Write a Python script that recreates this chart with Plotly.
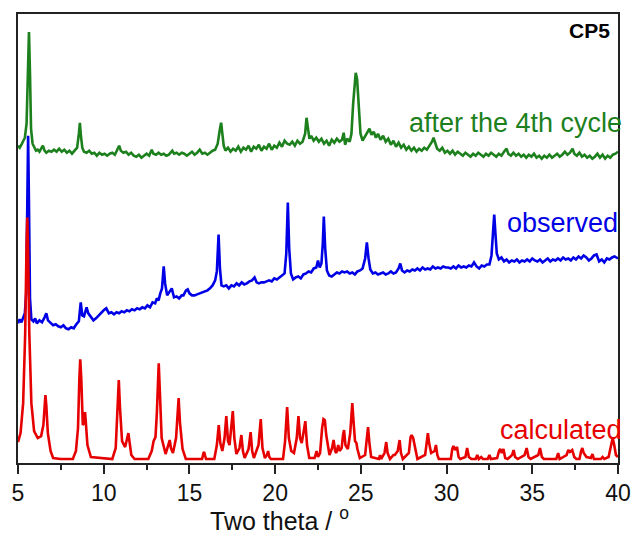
import plotly.graph_objects as go

# ---- data (two theta in degrees, intensity in arbitrary units with vertical offsets) ----
calc_pts = [
    (5.00, 21), (5.15, 30), (5.30, 60), (5.42, 130), (5.50, 220), (5.54, 246), (5.58, 220), (5.66, 130),
    (5.78, 60), (5.94, 32), (6.15, 25), (6.35, 27), (6.48, 38), (6.56, 60), (6.60, 68), (6.65, 58),
    (6.74, 30), (6.90, 12), (7.05, 5), (7.48, 4), (8.20, 4), (8.38, 12), (8.50, 35), (8.58, 85),
    (8.63, 104), (8.69, 85), (8.78, 38), (8.85, 40), (8.91, 51), (8.96, 40), (9.05, 18), (9.25, 6),
    (10.50, 4), (10.70, 15), (10.80, 50), (10.88, 83), (10.95, 55), (11.07, 22), (11.25, 16), (11.38, 24),
    (11.44, 30), (11.50, 22), (11.61, 8), (11.80, 4), (12.60, 4), (12.80, 12), (12.91, 22), (13.02, 26),
    (13.10, 50), (13.21, 100), (13.28, 70), (13.38, 25), (13.61, 9), (13.78, 18), (13.85, 23), (13.92, 15),
    (14.04, 10), (14.22, 25), (14.37, 65), (14.45, 40), (14.60, 14), (14.79, 4), (15.74, 4), (15.82, 10),
    (15.86, 11), (15.92, 7), (15.97, 4), (16.45, 4), (16.60, 18), (16.71, 38), (16.80, 20), (16.92, 12),
    (17.05, 25), (17.15, 47), (17.25, 22), (17.34, 18), (17.45, 35), (17.53, 52), (17.62, 25), (17.74, 9),
    (17.92, 15), (18.03, 28), (18.12, 12), (18.22, 5), (18.45, 14), (18.57, 31), (18.66, 12), (18.76, 5),
    (19.03, 18), (19.16, 44), (19.26, 15), (19.40, 5), (19.52, 8), (19.59, 12), (19.66, 6), (19.75, 4),
    (20.46, 4), (20.58, 22), (20.70, 56), (20.80, 25), (20.94, 12), (21.10, 10), (21.26, 25), (21.36, 47),
    (21.45, 25), (21.55, 20), (21.67, 32), (21.76, 42), (21.86, 18), (21.99, 5), (22.30, 5), (22.42, 12),
    (22.50, 6), (22.62, 10), (22.74, 35), (22.82, 44), (22.90, 43), (22.98, 28), (23.17, 8), (23.32, 15),
    (23.41, 23), (23.50, 12), (23.57, 10), (23.68, 18), (23.76, 12), (23.88, 15), (23.96, 28), (24.02, 33),
    (24.10, 18), (24.24, 14), (24.38, 30), (24.50, 60), (24.58, 40), (24.66, 22), (24.74, 20), (24.80, 14),
    (24.94, 5), (25.25, 8), (25.35, 25), (25.42, 36), (25.50, 20), (25.60, 6), (26.05, 4), (26.12, 8),
    (26.18, 4), (26.38, 10), (26.48, 21), (26.56, 10), (26.70, 4), (26.90, 8), (26.98, 8), (27.15, 12),
    (27.26, 23), (27.34, 10), (27.45, 4), (27.80, 10), (27.90, 26), (27.96, 28), (28.05, 25), (28.15, 16),
    (28.30, 4), (28.75, 8), (28.85, 26), (28.91, 30), (28.98, 20), (29.10, 10), (29.30, 12), (29.38, 18),
    (29.46, 8), (29.55, 4), (30.25, 4), (30.33, 14), (30.40, 17), (30.50, 13), (30.61, 16), (30.70, 6),
    (30.80, 4), (31.10, 6), (31.20, 15), (31.30, 6), (31.45, 4), (31.70, 4), (31.79, 8), (31.88, 4),
    (32.02, 6), (32.12, 4), (32.40, 4), (32.50, 8), (32.58, 4), (32.95, 5), (33.06, 12), (33.13, 14),
    (33.22, 10), (33.32, 14), (33.42, 5), (33.56, 4), (33.82, 8), (33.91, 13), (34.00, 6), (34.15, 4),
    (34.55, 8), (34.67, 15), (34.78, 6), (34.90, 4), (35.35, 8), (35.45, 15), (35.56, 6), (35.68, 4),
    (36.40, 4), (36.51, 10), (36.60, 4), (37.00, 8), (37.10, 13), (37.20, 11), (37.33, 13), (37.45, 6),
    (37.57, 4), (37.75, 4), (37.85, 12), (37.92, 15), (38.00, 10), (38.10, 8), (38.16, 6), (38.42, 5),
    (38.51, 9), (38.60, 4), (39.00, 4), (39.10, 6), (39.20, 4), (39.45, 6), (39.60, 18), (39.69, 25),
    (39.78, 18), (39.88, 8), (40.00, 6),
]

obs_pts = [
    (5.00, 140), (5.10, 144), (5.20, 141), (5.30, 146), (5.40, 150), (5.48, 170), (5.54, 260), (5.59, 328),
    (5.64, 260), (5.70, 165), (5.78, 144), (5.90, 142), (6.00, 145), (6.10, 140), (6.25, 143), (6.40, 141),
    (6.55, 146), (6.65, 150), (6.75, 143), (6.90, 140), (7.05, 138), (7.20, 139), (7.35, 137), (7.50, 136),
    (7.65, 138), (7.80, 135), (7.95, 134), (8.10, 136), (8.25, 135), (8.40, 139), (8.55, 142), (8.66, 161),
    (8.75, 148), (8.85, 147), (9.00, 156), (9.10, 150), (9.25, 146), (9.40, 143), (9.55, 145), (9.70, 148),
    (9.85, 150), (10.00, 153), (10.15, 155), (10.30, 150), (10.45, 151), (10.60, 149), (10.75, 151), (10.90, 150),
    (11.05, 152), (11.20, 151), (11.35, 153), (11.50, 152), (11.65, 154), (11.80, 153), (11.95, 155), (12.10, 154),
    (12.25, 156), (12.40, 155), (12.55, 158), (12.70, 156), (12.85, 161), (13.00, 160), (13.10, 165), (13.20, 163),
    (13.30, 170), (13.40, 175), (13.50, 197), (13.58, 180), (13.70, 168), (13.85, 172), (13.97, 175), (14.10, 166),
    (14.25, 167), (14.40, 165), (14.55, 168), (14.65, 168), (14.80, 173), (14.90, 174), (15.00, 170), (15.15, 168),
    (15.30, 168), (15.45, 169), (15.60, 170), (15.75, 171), (15.90, 172), (16.05, 173), (16.20, 175), (16.35, 178),
    (16.50, 183), (16.60, 192), (16.70, 229), (16.78, 195), (16.87, 178), (17.00, 177), (17.15, 178), (17.30, 175),
    (17.45, 178), (17.60, 177), (17.75, 180), (17.90, 178), (18.05, 181), (18.20, 179), (18.35, 180), (18.50, 182),
    (18.65, 183), (18.80, 186), (18.92, 181), (19.05, 180), (19.20, 181), (19.35, 181), (19.50, 182), (19.65, 183),
    (19.80, 182), (19.95, 185), (20.10, 184), (20.25, 186), (20.40, 188), (20.55, 190), (20.65, 210), (20.74, 261),
    (20.82, 215), (20.92, 190), (21.05, 184), (21.20, 186), (21.35, 187), (21.50, 185), (21.65, 189), (21.80, 190),
    (21.95, 192), (22.10, 191), (22.25, 195), (22.40, 196), (22.50, 203), (22.60, 196), (22.70, 200), (22.78, 220),
    (22.84, 247), (22.92, 215), (23.02, 193), (23.15, 188), (23.30, 187), (23.45, 189), (23.60, 191), (23.75, 190),
    (23.90, 192), (24.05, 191), (24.20, 192), (24.35, 190), (24.50, 191), (24.65, 189), (24.80, 192), (24.95, 193),
    (25.10, 195), (25.25, 205), (25.35, 221), (25.45, 205), (25.55, 194), (25.70, 190), (25.85, 191), (26.00, 189),
    (26.15, 190), (26.30, 191), (26.45, 189), (26.60, 190), (26.75, 192), (26.90, 190), (27.05, 191), (27.20, 195),
    (27.30, 200), (27.40, 193), (27.55, 191), (27.70, 193), (27.85, 192), (28.00, 194), (28.15, 193), (28.30, 195),
    (28.45, 193), (28.60, 196), (28.75, 194), (28.90, 195), (29.05, 194), (29.20, 197), (29.35, 195), (29.50, 196),
    (29.65, 195), (29.80, 197), (29.95, 196), (30.10, 196), (30.25, 195), (30.40, 197), (30.55, 195), (30.70, 198),
    (30.85, 196), (31.00, 197), (31.15, 196), (31.30, 198), (31.45, 197), (31.60, 201), (31.75, 197), (31.90, 195),
    (32.05, 198), (32.20, 197), (32.35, 199), (32.50, 199), (32.62, 208), (32.72, 240), (32.78, 249), (32.85, 230),
    (32.93, 210), (33.05, 204), (33.20, 206), (33.35, 202), (33.50, 204), (33.65, 201), (33.80, 203), (33.95, 202),
    (34.10, 204), (34.25, 201), (34.40, 203), (34.55, 202), (34.70, 204), (34.85, 202), (35.00, 205), (35.15, 203),
    (35.30, 202), (35.45, 204), (35.60, 201), (35.75, 203), (35.90, 205), (36.05, 202), (36.20, 204), (36.35, 203),
    (36.50, 205), (36.65, 203), (36.80, 206), (36.95, 204), (37.10, 205), (37.25, 203), (37.40, 206), (37.55, 204),
    (37.70, 207), (37.85, 205), (38.00, 208), (38.15, 206), (38.30, 203), (38.45, 205), (38.60, 208), (38.75, 209),
    (38.90, 202), (39.05, 204), (39.20, 201), (39.35, 205), (39.50, 204), (39.65, 206), (39.80, 207), (40.00, 205),
]

cycle_pts = [
    (5.00, 318), (5.10, 316), (5.20, 319), (5.30, 322), (5.40, 326), (5.50, 340), (5.57, 400), (5.64, 432),
    (5.70, 390), (5.76, 335), (5.85, 320), (5.95, 316), (6.05, 313), (6.15, 314), (6.25, 312), (6.35, 315),
    (6.45, 318), (6.55, 313), (6.65, 311), (6.80, 313), (6.95, 312), (7.10, 314), (7.25, 312), (7.40, 315),
    (7.55, 312), (7.70, 314), (7.85, 311), (8.00, 313), (8.15, 310), (8.30, 313), (8.45, 316), (8.55, 330),
    (8.61, 341), (8.67, 328), (8.75, 316), (8.85, 312), (9.00, 311), (9.15, 313), (9.30, 310), (9.45, 311),
    (9.60, 308), (9.75, 311), (9.90, 309), (10.05, 310), (10.20, 308), (10.35, 310), (10.50, 311), (10.65, 309),
    (10.80, 315), (10.90, 318), (11.00, 313), (11.15, 311), (11.30, 312), (11.45, 309), (11.60, 311), (11.75, 308),
    (11.90, 307), (12.05, 309), (12.20, 306), (12.35, 308), (12.50, 310), (12.65, 308), (12.80, 314), (12.90, 310),
    (13.05, 309), (13.20, 311), (13.35, 309), (13.50, 310), (13.65, 308), (13.80, 309), (14.00, 313), (14.10, 310),
    (14.25, 311), (14.40, 309), (14.55, 311), (14.70, 310), (14.85, 308), (15.00, 310), (15.15, 312), (15.30, 309),
    (15.45, 311), (15.60, 314), (15.75, 310), (15.90, 311), (16.05, 309), (16.20, 311), (16.35, 313), (16.50, 314),
    (16.65, 320), (16.78, 335), (16.85, 341), (16.92, 330), (17.00, 318), (17.10, 313), (17.25, 316), (17.40, 312),
    (17.55, 315), (17.70, 313), (17.85, 317), (18.00, 312), (18.15, 316), (18.30, 314), (18.45, 318), (18.60, 312),
    (18.75, 317), (18.90, 315), (19.05, 319), (19.20, 313), (19.35, 317), (19.50, 315), (19.65, 320), (19.80, 314),
    (19.95, 318), (20.10, 316), (20.25, 321), (20.40, 317), (20.55, 323), (20.70, 320), (20.85, 319), (21.00, 322),
    (21.15, 318), (21.30, 323), (21.45, 320), (21.60, 322), (21.75, 330), (21.83, 346), (21.90, 335), (22.00, 325),
    (22.10, 328), (22.25, 323), (22.40, 326), (22.55, 322), (22.70, 325), (22.85, 320), (23.00, 323), (23.15, 318),
    (23.30, 324), (23.45, 321), (23.60, 325), (23.75, 322), (23.90, 324), (24.00, 331), (24.08, 319), (24.20, 325),
    (24.35, 322), (24.45, 330), (24.55, 360), (24.65, 385), (24.70, 391), (24.78, 385), (24.88, 355), (24.98, 330),
    (25.10, 323), (25.25, 328), (25.40, 333), (25.50, 335), (25.62, 329), (25.75, 332), (25.88, 326), (26.00, 330),
    (26.15, 324), (26.30, 328), (26.45, 322), (26.60, 325), (26.75, 319), (26.90, 323), (27.05, 317), (27.20, 321),
    (27.35, 316), (27.50, 319), (27.65, 314), (27.80, 317), (27.95, 313), (28.10, 316), (28.25, 312), (28.40, 315),
    (28.55, 313), (28.70, 316), (28.85, 314), (29.00, 318), (29.15, 322), (29.24, 326), (29.33, 320), (29.45, 315),
    (29.60, 313), (29.75, 316), (29.90, 311), (30.05, 313), (30.20, 310), (30.35, 313), (30.50, 309), (30.65, 312),
    (30.80, 310), (30.95, 308), (31.10, 311), (31.25, 309), (31.40, 307), (31.55, 310), (31.70, 308), (31.85, 311),
    (32.00, 309), (32.15, 307), (32.30, 310), (32.45, 308), (32.60, 311), (32.75, 309), (32.90, 307), (33.05, 310),
    (33.20, 308), (33.35, 312), (33.50, 315), (33.60, 310), (33.75, 308), (33.90, 311), (34.05, 308), (34.20, 310),
    (34.35, 307), (34.50, 309), (34.65, 306), (34.80, 309), (34.95, 307), (35.10, 310), (35.25, 306), (35.40, 308),
    (35.55, 305), (35.70, 308), (35.85, 306), (36.00, 309), (36.15, 306), (36.30, 308), (36.45, 310), (36.60, 307),
    (36.75, 309), (36.90, 312), (37.05, 309), (37.20, 311), (37.35, 315), (37.45, 310), (37.60, 308), (37.75, 311),
    (37.90, 307), (38.05, 309), (38.20, 306), (38.35, 308), (38.50, 305), (38.65, 307), (38.80, 310), (38.95, 306),
    (39.10, 309), (39.25, 305), (39.40, 308), (39.55, 306), (39.70, 309), (39.85, 310), (40.00, 312),
]

x_ticks = [5, 10, 15, 20, 25, 30, 35, 40]
series_labels = ["calculated", "observed", "after the 4th cycle"]
panel_label = "CP5"
x_title = "Two theta / <sup>o</sup>"

GREEN = "#1c801c"
BLUE = "#0000e6"
RED = "#e60000"
FONT = "Arial, Liberation Sans, sans-serif"

fig = go.Figure()
for pts, col in [(cycle_pts, GREEN), (obs_pts, BLUE), (calc_pts, RED)]:
    fig.add_trace(go.Scatter(
        x=[p[0] for p in pts], y=[p[1] for p in pts], mode="lines",
        line=dict(color=col, width=2.6), showlegend=False, hoverinfo="skip"))

fig.update_layout(
    width=643, height=535,
    margin=dict(l=17, r=16, t=13, b=72),
    paper_bgcolor="white", plot_bgcolor="white",
    font=dict(family=FONT, color="#111111"),
    xaxis=dict(range=[5, 40], tickmode="array", tickvals=x_ticks,
               ticktext=[str(v) for v in x_ticks],
               ticks="outside", ticklen=9, tickwidth=1.5, tickcolor="#222222",
               minor=dict(tickmode="linear", tick0=5, dtick=2.5, ticks="outside", ticklen=5,
                          tickwidth=1.5, tickcolor="#222222"),
               showline=True, linecolor="#222222", linewidth=1.5, mirror=True,
               showgrid=False, zeroline=False,
               tickfont=dict(size=23, family=FONT, color="#111111")),
    yaxis=dict(range=[0, 450], showticklabels=False, ticks="",
               showline=True, linecolor="#222222", linewidth=1.5, mirror=True,
               showgrid=False, zeroline=False),
)

fig.add_annotation(xref="paper", yref="y", x=1.0, y=341, text=series_labels[2],
                   showarrow=False, xanchor="right", yanchor="middle", xshift=6,
                   font=dict(size=27, color=GREEN, family=FONT))
fig.add_annotation(xref="paper", yref="y", x=1.0, y=241, text=series_labels[1],
                   showarrow=False, xanchor="right", yanchor="middle", xshift=2,
                   font=dict(size=27, color=BLUE, family=FONT))
fig.add_annotation(xref="paper", yref="y", x=1.0, y=33, text=series_labels[0],
                   showarrow=False, xanchor="right", yanchor="middle", xshift=6,
                   font=dict(size=27, color=RED, family=FONT))
fig.add_annotation(xref="paper", yref="y", x=0.99, y=433, text="<b>" + panel_label + "</b>",
                   showarrow=False, xanchor="right", yanchor="middle",
                   font=dict(size=21, color="#000000", family=FONT))
fig.add_annotation(xref="paper", yref="paper", x=0.436, y=-0.124, text=x_title,
                   showarrow=False, xanchor="center", yanchor="middle",
                   font=dict(size=25, color="#111111", family=FONT))

fig.write_html("out.html")
